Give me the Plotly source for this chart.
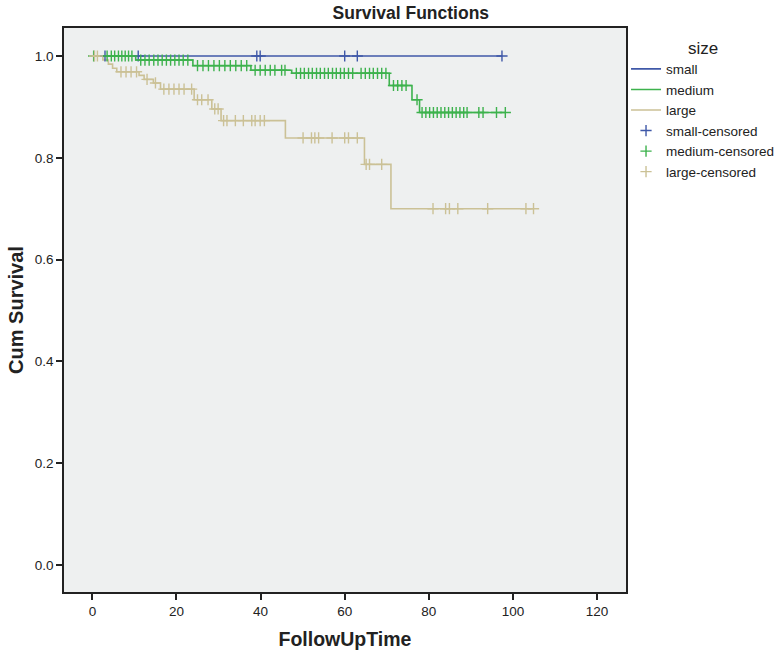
import numpy as np
import plotly.graph_objects as go

# ---- data ----
groups = ["small", "medium", "large"]
colors = {"small": "#3F58A8", "medium": "#3DB24D", "large": "#CBC196"}

small_step_times = [0.0]
small_step_surv = [1.0]
small_censor_times = [3.0, 10.9, 39.1, 39.9, 60.0, 63.0, 97.4]

medium_step_times = [0.0, 10.3, 23.9, 37.7, 47.4, 70.6, 76.0, 77.8]
medium_step_surv = [1.0, 0.992, 0.981, 0.972, 0.966, 0.942, 0.914, 0.889]
medium_censor_times = [
    0.3, 3.5, 4.5, 5.3, 6.2, 7.0, 7.8, 8.6, 9.4,
    11.5, 12.5, 13.5, 14.6, 15.6, 16.6, 17.6, 18.6, 19.6, 20.6, 21.6, 22.7,
    25.0, 26.3, 27.6, 28.9, 30.2, 31.5, 32.8, 34.1, 35.4, 36.7,
    38.7, 39.9, 41.1, 42.3, 43.4, 45.0, 45.8,
    48.5, 49.5, 50.4, 51.4, 52.3, 53.3, 54.2, 55.2, 56.1, 57.1, 58.0, 59.0, 59.9, 60.9, 61.9,
    63.9, 64.9, 65.9, 66.8, 67.8, 68.8, 69.8,
    71.6, 72.6, 73.6, 74.6,
    77.2,
    78.4, 79.3, 80.2, 81.1, 82.0, 82.9, 83.8, 84.7, 85.6, 86.5, 87.4, 88.3, 89.1,
    91.9, 92.9, 96.1, 98.2,
]

large_step_times = [0.0, 2.5, 3.8, 4.8, 5.8, 11.1, 12.3, 14.5, 16.2, 24.2, 28.4, 30.6, 45.9, 64.7, 71.0]
large_step_surv = [1.0, 0.992, 0.984, 0.976, 0.969, 0.962, 0.954, 0.947, 0.935, 0.914, 0.896, 0.873, 0.839, 0.787, 0.700]
large_censor_times = [
    0.5, 1.2,
    6.8, 8.0, 9.2, 10.5,
    13.0, 15.0,
    17.0, 18.2, 19.4, 20.6, 21.8, 23.6,
    25.0, 26.0, 27.5,
    29.1, 29.9,
    31.2, 32.0, 34.0, 35.9, 37.9, 38.7, 39.9, 40.9,
    50.1, 52.1, 52.9, 53.8, 57.0, 60.0, 60.9, 63.0,
    65.1, 65.9, 68.8,
    81.0, 84.0, 84.9, 86.9, 94.0, 103.1, 104.9,
]

x_ticks = [0, 20, 40, 60, 80, 100, 120]
y_ticks = [0.0, 0.2, 0.4, 0.6, 0.8, 1.0]

data = {
    "small": (small_step_times, small_step_surv, small_censor_times),
    "medium": (medium_step_times, medium_step_surv, medium_censor_times),
    "large": (large_step_times, large_step_surv, large_censor_times),
}

def surv_at(times, surv, t):
    idx = np.searchsorted(np.array(times), np.array(t), side="right") - 1
    return np.array(surv)[idx]

fig = go.Figure()

# step curves
for g in groups:
    st, ss, ct = data[g]
    end = max(ct)
    fig.add_trace(go.Scatter(
        x=list(st) + [end], y=list(ss) + [ss[-1]],
        mode="lines", line=dict(color=colors[g], width=1.6, shape="hv"),
        name=g, hoverinfo="skip",
    ))

# censor marks
for g in groups:
    st, ss, ct = data[g]
    fig.add_trace(go.Scatter(
        x=ct, y=surv_at(st, ss, ct),
        mode="markers",
        marker=dict(symbol="cross-thin-open", size=8, color=colors[g],
                    line=dict(color=colors[g], width=1.4)),
        name=f"{g}-censored",
    ))

font_family = "Liberation Sans, Arial, sans-serif"

fig.update_layout(
    width=784, height=657,
    paper_bgcolor="white", plot_bgcolor="#EEF0F0",
    margin=dict(l=64, r=155, t=28, b=65),
    font=dict(family=font_family, size=13, color="#222222"),
    title=dict(text="<b>Survival Functions</b>", x=0.524, xanchor="center",
               y=0.980, yanchor="middle",
               font=dict(family=font_family, size=17.5, color="#222222")),
    showlegend=True,
    legend=dict(
        xref="container", yref="container",
        x=0.7985, y=0.952, xanchor="left", yanchor="top",
        bgcolor="rgba(0,0,0,0)", traceorder="normal",
        title=dict(text="size", side="top center", font=dict(family=font_family, size=17)),
        font=dict(family=font_family, size=13.5),
        itemwidth=30, tracegroupgap=0,
    ),
    xaxis=dict(
        range=[-6.75, 126.9], tickvals=x_ticks, ticktext=[str(v) for v in x_ticks],
        showgrid=False, zeroline=False, automargin=False,
        showline=True, linecolor="#222222", linewidth=1.5, mirror=True,
        ticks="outside", ticklen=6, tickwidth=1.5, tickcolor="#222222",
        tickfont=dict(size=13.5),
        title=dict(text="<b>FollowUpTime</b>", font=dict(size=19.5), standoff=14),
    ),
    yaxis=dict(
        range=[-0.053, 1.055], tickvals=y_ticks, ticktext=[f"{v:.1f}" for v in y_ticks],
        showgrid=False, zeroline=False, automargin=False,
        showline=True, linecolor="#222222", linewidth=1.5, mirror=True,
        ticks="outside", ticklen=6, tickwidth=1.5, tickcolor="#222222",
        tickfont=dict(size=13.5),
        title=dict(text="<b>Cum Survival</b>", font=dict(size=20), standoff=6),
    ),
)

fig.write_html(
    "out.html",
    config={"displayModeBar": False},
    post_script="document.body.style.margin='0px';document.body.style.overflow='hidden';",
)
